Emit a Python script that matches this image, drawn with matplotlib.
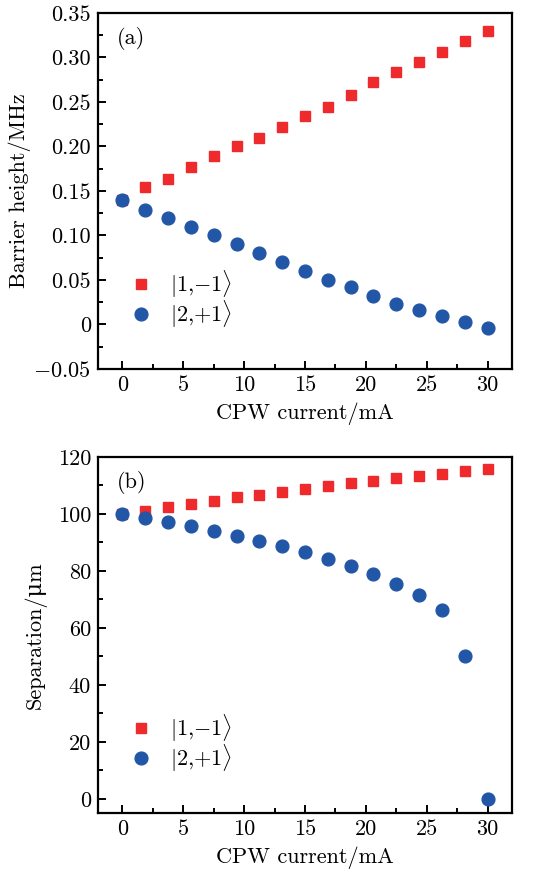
import numpy as np
import matplotlib
matplotlib.use('Agg')
import matplotlib.pyplot as plt
from matplotlib.ticker import AutoMinorLocator

plt.rcParams['font.family'] = ['cmr10', 'DejaVu Serif']
plt.rcParams['mathtext.fontset'] = 'cm'
plt.rcParams['axes.unicode_minus'] = False
plt.rcParams['font.size'] = 16

# data
current_mA = [0, 1.875, 3.75, 5.625, 7.5, 9.375, 11.25, 13.125, 15,
              16.875, 18.75, 20.625, 22.5, 24.375, 26.25, 28.125, 30]

barrier_1m1 = [0.140, 0.154, 0.164, 0.177, 0.189, 0.200, 0.210, 0.222, 0.234,
               0.244, 0.258, 0.272, 0.284, 0.295, 0.306, 0.318, 0.330]
barrier_2p1 = [0.140, 0.129, 0.120, 0.110, 0.100, 0.090, 0.080, 0.070, 0.060,
               0.050, 0.042, 0.032, 0.023, 0.016, 0.009, 0.003, -0.004]

sep_1m1 = [100.0, 101.2, 102.5, 103.5, 104.7, 105.9, 106.8, 107.8, 108.9,
           109.7, 110.7, 111.6, 112.5, 113.3, 114.0, 115.0, 115.8]
sep_2p1 = [100.0, 98.5, 97.1, 95.7, 94.1, 92.4, 90.6, 88.7, 86.6,
           84.3, 81.8, 78.9, 75.5, 71.4, 66.2, 50.3, 0.0]

labels = [r'$|1{,}{-}1\rangle$', r'$|2{,}{+}1\rangle$']

xticks = [0, 5, 10, 15, 20, 25, 30]
yticks_a = [-0.05, 0, 0.05, 0.10, 0.15, 0.20, 0.25, 0.30, 0.35]
yticklabels_a = ['$-0.05$', '0', '0.05', '0.10', '0.15', '0.20', '0.25', '0.30', '0.35']
yticks_b = [0, 20, 40, 60, 80, 100, 120]

red = '#EE2A2C'
blue = '#2256A6'

fig = plt.figure(figsize=(5.55, 8.71), dpi=100)
W, H = 555.0, 871.0
axA = fig.add_axes([98/W, 1-369/H, 414/W, 356/H])
axB = fig.add_axes([98/W, 1-813/H, 414/W, 356/H])

def style(ax):
    for s in ax.spines.values():
        s.set_linewidth(1.6)
    ax.tick_params(which='both', direction='in', top=False, right=False, width=1.4)
    ax.tick_params(which='major', length=6, pad=5)
    ax.tick_params(which='minor', length=3.5)
    ax.xaxis.set_minor_locator(AutoMinorLocator(2))
    ax.yaxis.set_minor_locator(AutoMinorLocator(2))
    ax.set_xticks(xticks)
    ax.set_xlim(-2, 32)
    ax.set_xlabel('CPW current/mA', labelpad=5)

def legend(ax):
    ax.legend(loc='lower left', bbox_to_anchor=(0.055, 0.085), frameon=False,
              handletextpad=0.8, labelspacing=-0.1, handlelength=1.0,
              borderaxespad=0)

# (a)
axA.plot(current_mA, barrier_1m1, 's', color=red, markersize=7.8, label=labels[0])
axA.plot(current_mA, barrier_2p1, 'o', color=blue, markersize=9.2, label=labels[1])
style(axA)
axA.set_ylim(-0.05, 0.35)
axA.set_yticks(yticks_a)
axA.set_yticklabels(yticklabels_a)
axA.set_ylabel('Barrier height/MHz', labelpad=2)
axA.text(0.045, 0.96, '(a)', transform=axA.transAxes, va='top', ha='left')
legend(axA)

# (b)
axB.plot(current_mA, sep_1m1, 's', color=red, markersize=7.8, label=labels[0])
axB.plot(current_mA, sep_2p1, 'o', color=blue, markersize=9.2, label=labels[1])
style(axB)
axB.set_ylim(-5, 120)
axB.set_yticks(yticks_b)
axB.set_ylabel('Separation/μm', labelpad=8)
axB.text(0.045, 0.96, '(b)', transform=axB.transAxes, va='top', ha='left')
legend(axB)

fig.savefig('out.png', dpi=100)
